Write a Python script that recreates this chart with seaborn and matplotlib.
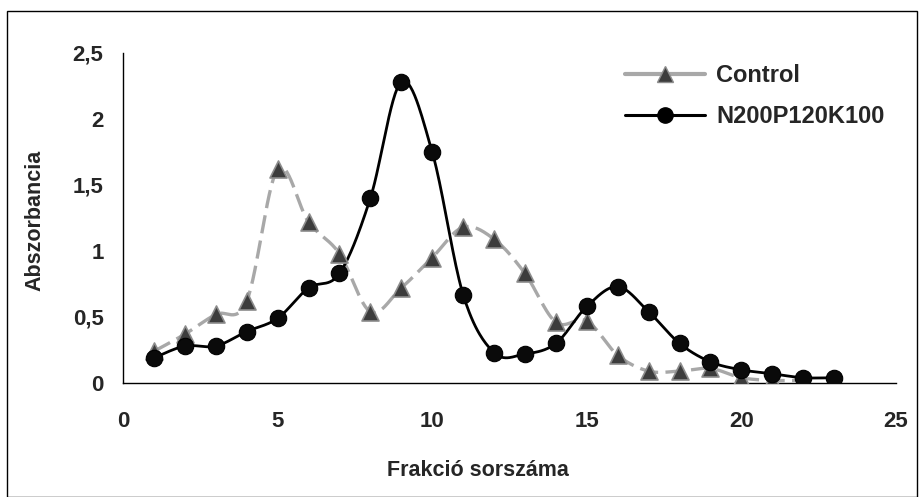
import numpy as np
import pandas as pd
import matplotlib
matplotlib.use("Agg")
import matplotlib.pyplot as plt
from matplotlib.lines import Line2D
from matplotlib.patches import Rectangle
import seaborn as sns

# fraction numbers and absorbance readings
fractions_control = [1, 2, 3, 4, 5, 6, 7, 8, 9, 10, 11, 12, 13, 14, 15, 16,
                     17, 18, 19, 20, 21, 22]
control = [0.24, 0.37, 0.52, 0.62, 1.62, 1.22, 0.98, 0.54, 0.72, 0.95, 1.18,
           1.09, 0.83, 0.46, 0.47, 0.21, 0.09, 0.09, 0.11, 0.04, 0.02, 0.02]

fractions_npk = [1, 2, 3, 4, 5, 6, 7, 8, 9, 10, 11, 12, 13, 14, 15, 16, 17,
                 18, 19, 20, 21, 22, 23]
npk = [0.19, 0.28, 0.28, 0.39, 0.49, 0.72, 0.83, 1.40, 2.28, 1.75, 0.67, 0.23,
       0.22, 0.30, 0.58, 0.73, 0.54, 0.30, 0.16, 0.10, 0.07, 0.04, 0.04]

series_names = ["Control", "N200P120K100"]
x_ticks = [0, 5, 10, 15, 20, 25]
y_ticks = [0, 0.5, 1, 1.5, 2, 2.5]
y_tick_labels = ["0", "0,5", "1", "1,5", "2", "2,5"]


def smooth(xs, ys, n=30):
    # Excel-style smoothed line: Catmull-Rom through the points
    p = np.column_stack([xs, ys]).astype(float)
    p = np.vstack([p[0], p, p[-1]])
    out = []
    t = np.linspace(0, 1, n, endpoint=False)[:, None]
    for i in range(1, len(p) - 2):
        p0, p1, p2, p3 = p[i - 1], p[i], p[i + 1], p[i + 2]
        seg = 0.5 * ((2 * p1) + (-p0 + p2) * t
                     + (2 * p0 - 5 * p1 + 4 * p2 - p3) * t ** 2
                     + (-p0 + 3 * p1 - 3 * p2 + p3) * t ** 3)
        out.append(seg)
    out.append(p[-2][None, :])
    out = np.vstack(out)
    return out[:, 0], out[:, 1]


sns.set_style("white")
plt.rcParams["font.family"] = ["Liberation Sans", "DejaVu Sans"]
plt.rcParams["font.weight"] = "bold"

fig = plt.figure(figsize=(9.2, 4.97), dpi=100)
ax = fig.add_axes([123 / 920, 1 - 383 / 497, (896 - 123) / 920, (383 - 53) / 497])

# outer chart frame
fig.patches.append(Rectangle((7 / 920, 0), 910 / 920, 1 - 11 / 497,
                             transform=fig.transFigure, fill=False,
                             edgecolor="black", linewidth=1.0))

cx, cy = smooth(fractions_control, control)
nx, ny = smooth(fractions_npk, npk)
df_c = pd.DataFrame({"x": cx, "y": cy})
df_n = pd.DataFrame({"x": nx, "y": ny})

sns.lineplot(data=df_c, x="x", y="y", sort=False, estimator=None, ax=ax,
             color="#a8a8a8", linewidth=2.4, dashes=False)
ax.lines[-1].set_dashes((5.5, 2.2))
sns.lineplot(data=df_n, x="x", y="y", sort=False, estimator=None, ax=ax,
             color="black", linewidth=2.0)

sns.scatterplot(x=fractions_control, y=control, marker="^", s=150,
                color="#3c3c3c", edgecolor="#8c8c8c", linewidth=1.2, ax=ax,
                zorder=4)
sns.scatterplot(x=fractions_npk, y=npk, marker="o", s=140, color="#0a0a0a",
                edgecolor="black", linewidth=0.8, ax=ax, zorder=5)

ax.set_xlim(0, 25)
ax.set_ylim(0, 2.5)
ax.set_xticks(x_ticks)
ax.set_yticks(y_ticks)
ax.set_yticklabels(y_tick_labels)
ax.tick_params(axis="both", direction="out", length=6, width=1, color="black",
               labelsize=16, pad=8)
ax.tick_params(axis="x", pad=14)
for lab in ax.get_xticklabels() + ax.get_yticklabels():
    lab.set_fontweight("bold")
sns.despine(ax=ax)
for s in ["left", "bottom"]:
    ax.spines[s].set_color("black")
    ax.spines[s].set_linewidth(1.0)
ax.set_xlabel("")
ax.set_ylabel("")

fig.text(35 / 920, 1 - 220 / 497, "Abszorbancia", rotation=90, ha="center",
         va="center", fontsize=15.5, fontweight="bold")
fig.text(478 / 920, 1 - 470 / 497, "Frakció sorszáma", ha="center",
         va="center", fontsize=15.5, fontweight="bold")

handles = [
    Line2D([], [], color="#a8a8a8", linewidth=3, marker="^", markersize=12,
           markerfacecolor="#3c3c3c", markeredgecolor="#8c8c8c"),
    Line2D([], [], color="black", linewidth=2.2, marker="o", markersize=11,
           markerfacecolor="black", markeredgecolor="black"),
]
ax.legend(handles, series_names, loc="upper left",
          bbox_to_anchor=(0.622, 1.03), frameon=False,
          handlelength=3.4, handletextpad=0.45, labelspacing=0.75,
          prop={"weight": "bold", "size": 17})

fig.savefig("out.png", dpi=100)
